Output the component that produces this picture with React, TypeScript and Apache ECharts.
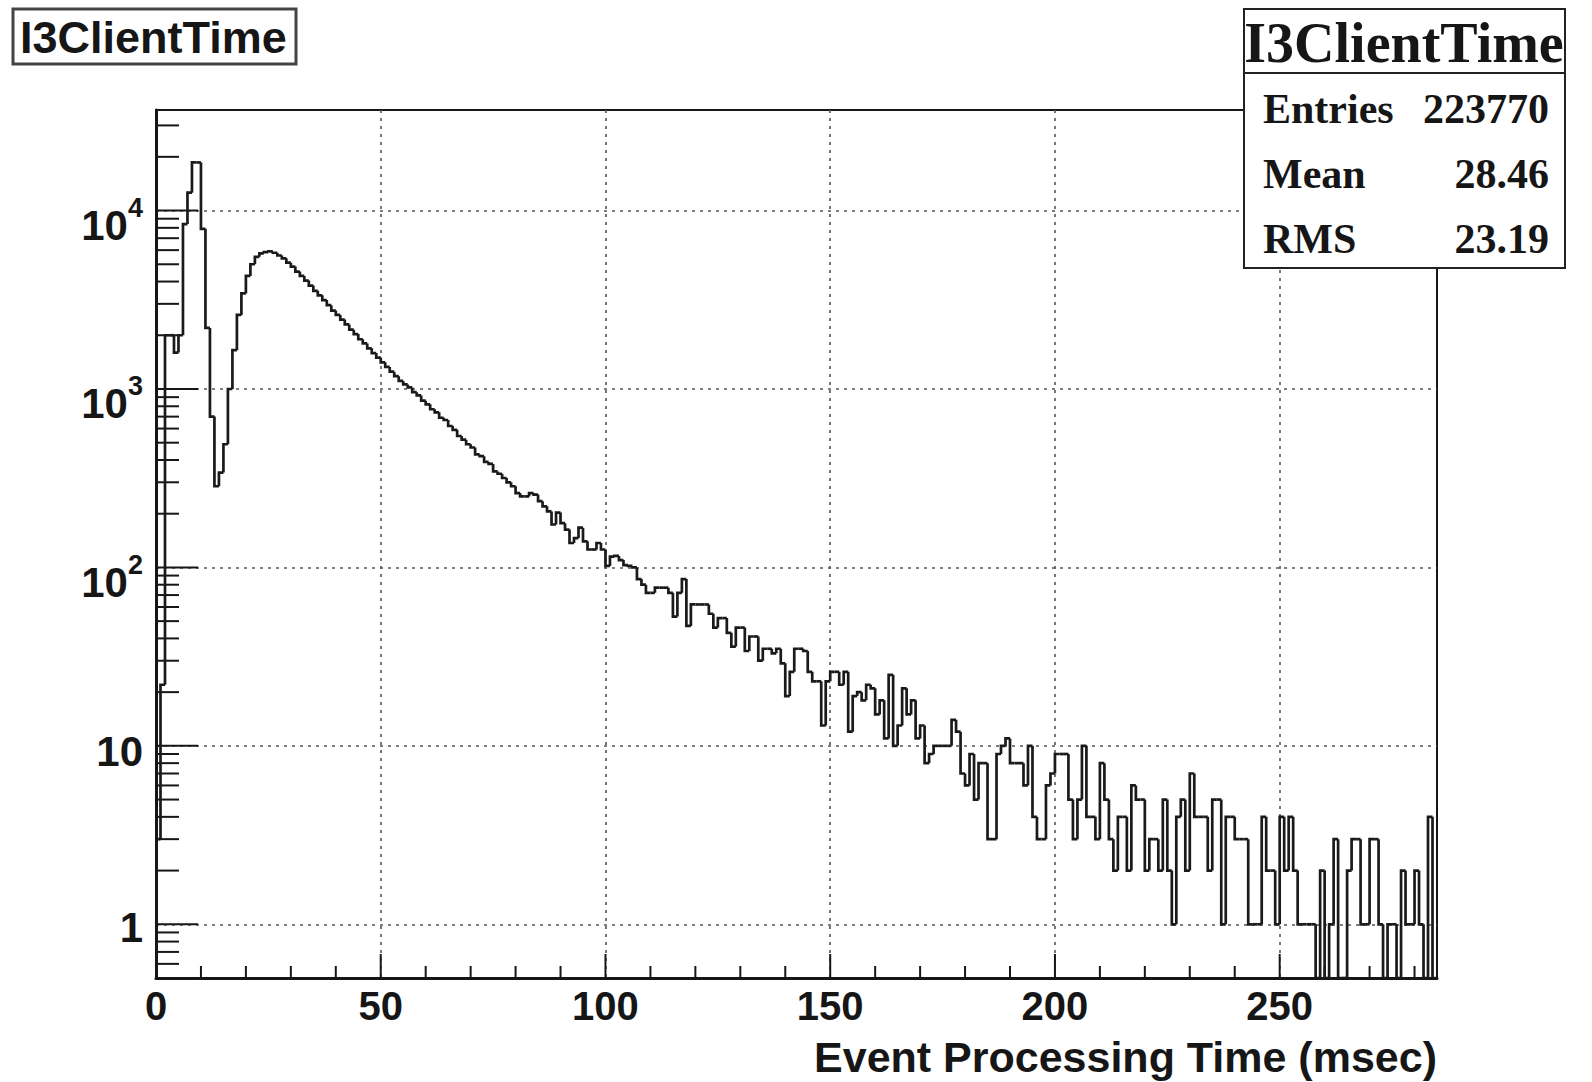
import React, { useEffect, useRef } from 'react';
import * as echarts from 'echarts';

// ---- Histogram contents (counts per 1 msec bin) ----
const binWidth = 1;
const peakBins = [
  3, 22, 2000, 2000, 1600, 2000, 8400, 12600, 18600, 18600,
  7900, 2200, 700, 285, 340, 490, 1000, 1650, 2600, 3430,
  4300, 5000, 5500, 5750,
];
const slopeBins = [
  5850, 5900, 5800, 5600, 5400, 5100, 4850, 4550, 4300, 4050,
  3800, 3550, 3350, 3150, 2950, 2750, 2600, 2450, 2300, 2150,
  2030, 1900, 1800, 1690, 1590, 1500, 1410, 1330, 1250, 1180,
  1110, 1060, 1020, 960, 920, 860, 820, 770, 740, 690,
  670, 620, 590, 545, 520, 490, 470, 430, 420, 390,
  380, 345, 335, 317, 300, 285, 261, 250, 250, 261,
  256, 235, 220, 206, 174, 203, 177, 163, 137, 146,
  167, 140, 126, 126, 137, 126,
];
const midBins = [
  102, 115, 116, 110, 103, 102, 100, 86, 80, 72,
  72, 77, 77, 77, 72, 53, 72, 86, 47, 62,
  62, 62, 62, 55, 46, 52, 52, 43, 36, 46,
  46, 34, 41, 41, 30, 35, 35, 33, 35, 29,
  19, 26, 35, 35, 34, 26, 23, 23, 13, 23,
  26, 26, 22, 26, 12,
];
const tailBinsA = [
  19, 20, 18, 22, 21, 15, 18, 11, 25, 10,
  13, 21, 15, 18, 11, 13, 8, 9, 10, 10,
  10, 10, 14, 12, 7, 6, 9, 5, 8, 8,
  3, 3, 9, 10, 11, 8, 8, 8, 6, 10,
  4, 3, 3, 6, 7, 9, 9, 9, 5, 3,
  5, 10, 4, 4, 3, 8, 5, 3, 2, 4,
  4, 2, 6, 5, 5, 2,
];
const tailBinsB = [
  3, 3, 2, 5, 2, 1, 4, 5, 2, 7,
  4, 4, 4, 2, 5, 5, 1, 4, 4, 3,
  3, 3, 1, 1, 1, 4, 2, 2, 1, 4,
  2, 4, 2, 1, 1, 1, 1, 0, 2, 0,
  1, 3, 0, 0, 2, 3, 3, 1, 1, 3,
  3, 1, 0, 1, 1, 0, 2, 1, 1, 2,
  1, 0, 4, 0,
];

// ---- Axes / labels ----
const xMin = 0;
const xMax = 285;
const xInterval = 50;
const yMin = 0.5;
const yMax = 36600;
const yTickLabels = ['1', '10', '10^2', '10^3', '10^4'];
const xTitle = 'Event Processing Time (msec)';
const histName = 'I3ClientTime';
const statsLabels = ['Entries', 'Mean', 'RMS'];
const statsValues = ['223770', '28.46', '23.19'];

const SANS = '"Liberation Sans", Arial, sans-serif';
const SERIF = '"Liberation Serif", "Times New Roman", serif';
const INK = '#161616';
const TOP_Z = 100;

export default function App() {
  const ref = useRef<HTMLDivElement>(null);

  useEffect(() => {
    const el = ref.current;
    if (!el) return;
    const chart = echarts.init(el, null, { renderer: 'svg' });

    const bins = [...peakBins, ...slopeBins, ...midBins, ...tailBinsA, ...tailBinsB];
    const histData = bins.map((v, i) => [i * binWidth, v, i === 0 ? 0 : bins[i - 1]]);

    // axis tick positions (axis decoration, not data)
    const xTickData: number[][] = [];
    for (let v = xMin; v < xMax; v += 10) xTickData.push([v, yMin, v % 50 === 0 ? 1 : 0]);
    const yTickData: number[][] = [];
    for (let e = -1; e <= 4; e++) {
      for (let m = 1; m <= 9; m++) {
        const v = m * Math.pow(10, e);
        if (v > yMin * 1.0001 && v < yMax) yTickData.push([xMin, v, m === 1 ? 1 : 0]);
      }
    }

    const topText = (x: number, y: number, text: string, font: string, align: string) => ({
      type: 'text',
      z: TOP_Z + 2,
      x,
      y,
      style: { text, font, fill: INK, align, verticalAlign: 'middle' },
    });

    const option: any = {
      animation: false,
      backgroundColor: '#ffffff',
      textStyle: { fontFamily: SANS },
      grid: {
        left: 156,
        top: 110,
        width: 1281,
        height: 868,
        show: true,
        borderColor: INK,
        borderWidth: 2,
        backgroundColor: 'transparent',
        containLabel: false,
      },
      xAxis: {
        type: 'value',
        min: xMin,
        max: xMax,
        interval: xInterval,
        axisLine: { show: true, onZero: false, lineStyle: { color: INK, width: 3 } },
        axisTick: { show: false },
        axisLabel: {
          show: true,
          margin: 8,
          showMaxLabel: false,
          fontSize: 40,
          fontWeight: 'bold',
          fontFamily: SANS,
          color: INK,
        },
        splitLine: {
          show: true,
          showMinLine: false,
          showMaxLine: false,
          lineStyle: { color: '#555', width: 1.6, type: [3, 5] },
        },
      },
      yAxis: {
        type: 'log',
        logBase: 10,
        min: yMin,
        max: yMax,
        axisLine: { show: true, onZero: false, lineStyle: { color: INK, width: 3 } },
        axisTick: { show: false },
        axisLabel: {
          show: true,
          margin: 13,
          showMinLabel: false,
          showMaxLabel: false,
          color: INK,
          formatter: (val: number) => {
            const e = Math.log10(val);
            const r = Math.round(e);
            if (Math.abs(e - r) > 1e-6 || r < 0 || r >= yTickLabels.length) return '';
            const lab = yTickLabels[r];
            if (lab.indexOf('^') >= 0) {
              const parts = lab.split('^');
              return '{p|' + parts[0] + '}{s|' + parts[1] + '}';
            }
            return r === 0 ? '{one|' + lab + '}' : '{ten|' + lab + '}';
          },
          rich: {
            one: { fontSize: 42, fontWeight: 'bold', fontFamily: SANS, color: INK, padding: [6, 0, 0, 0], verticalAlign: 'bottom' },
            ten: { fontSize: 42, fontWeight: 'bold', fontFamily: SANS, color: INK, padding: [12, 0, 0, 0], verticalAlign: 'bottom' },
            p: { fontSize: 42, fontWeight: 'bold', fontFamily: SANS, color: INK, padding: [30, 0, 0, 0], verticalAlign: 'bottom' },
            s: { fontSize: 27, fontWeight: 'bold', fontFamily: SANS, color: INK, padding: [20, 0, 0, 0], verticalAlign: 'top' },
          },
        },
        splitLine: {
          show: true,
          showMinLine: false,
          showMaxLine: false,
          lineStyle: { color: '#555', width: 1.6, type: [3, 5] },
        },
      },
      series: [
        {
          type: 'custom',
          name: 'ticksX',
          silent: true,
          clip: false,
          encode: { x: 0, y: 1 },
          data: xTickData,
          z: 3,
          renderItem: (params: any, api: any) => {
            const p = api.coord([api.value(0), yMin]);
            const len = api.value(2) === 1 ? 24 : 12;
            return {
              type: 'line',
              shape: { x1: p[0], y1: p[1], x2: p[0], y2: p[1] - len },
              style: { stroke: INK, lineWidth: 2 },
            };
          },
        },
        {
          type: 'custom',
          name: 'ticksY',
          silent: true,
          clip: false,
          encode: { x: 0, y: 1 },
          data: yTickData,
          z: 3,
          renderItem: (params: any, api: any) => {
            const p = api.coord([xMin, api.value(1)]);
            const len = api.value(2) === 1 ? 42 : 23;
            return {
              type: 'line',
              shape: { x1: p[0], y1: p[1], x2: p[0] + len, y2: p[1] },
              style: { stroke: INK, lineWidth: 2 },
            };
          },
        },
        {
          type: 'custom',
          name: histName,
          silent: true,
          clip: true,
          encode: { x: 0, y: 1 },
          data: histData,
          z: 4,
          renderItem: (params: any, api: any) => {
            const x0 = api.value(0);
            const v = api.value(1);
            const prev = api.value(2);
            const bottom = api.coord([x0, yMin])[1];
            const yOf = (c: number) => (c > 0 ? api.coord([x0, c])[1] : bottom);
            const left = api.coord([x0, yMin])[0];
            const right = api.coord([x0 + binWidth, yMin])[0];
            return {
              type: 'polyline',
              shape: {
                points: [
                  [left, yOf(prev)],
                  [left, yOf(v)],
                  [right, yOf(v)],
                ],
              },
              style: { stroke: '#1a1a1a', lineWidth: 2.7, fill: 'none' },
            };
          },
        },
      ],
      graphic: [
        // top-left title box
        {
          type: 'rect',
          z: TOP_Z,
          shape: { x: 13, y: 9, width: 283, height: 55 },
          style: { fill: '#ffffff', stroke: '#444', lineWidth: 3 },
        },
        topText(20, 37, histName, 'bold 45px ' + SANS, 'left'),
        // statistics box
        {
          type: 'rect',
          z: TOP_Z,
          shape: { x: 1244, y: 9, width: 321, height: 259 },
          style: { fill: '#ffffff', stroke: '#222', lineWidth: 2 },
        },
        {
          type: 'line',
          z: TOP_Z + 1,
          shape: { x1: 1244, y1: 73, x2: 1565, y2: 73 },
          style: { stroke: '#222', lineWidth: 2 },
        },
        topText(1404, 43, histName, 'bold 56px ' + SERIF, 'center'),
        ...statsLabels.map((lab, i) => topText(1263, 109 + i * 65, lab, 'bold 42px ' + SERIF, 'left')),
        ...statsValues.map((val, i) => topText(1549, 109 + i * 65, val, 'bold 42px ' + SERIF, 'right')),
        // x axis title
        topText(1437, 1057, xTitle, 'bold 43px ' + SANS, 'right'),
      ],
    };

    chart.setOption(option);
    return () => {
      chart.dispose();
    };
  }, []);

  return (
    <div
      ref={ref}
      style={{ position: 'fixed', left: 0, top: 0, width: 1592, height: 1082, background: '#ffffff' }}
    />
  );
}
